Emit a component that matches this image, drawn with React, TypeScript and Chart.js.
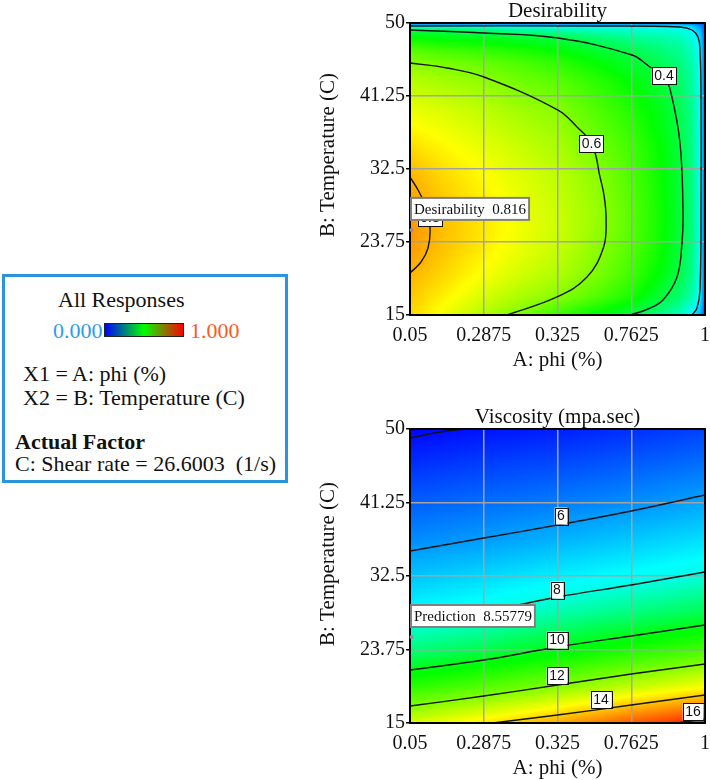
import React, { useEffect, useRef } from "react";
import { Chart, registerables } from "chart.js";

Chart.register(...registerables);

const SERIF = "'Liberation Serif', 'Times New Roman', Times, serif";
const SANS = "'Liberation Sans', Arial, sans-serif";

// ---------- axes ----------
const xTickValues = [0.05, 0.2875, 0.525, 0.7625, 1];
const xTickLabels = ["0.05", "0.2875", "0.325", "0.7625", "1"];
const yTickValues = [15, 23.75, 32.5, 41.25, 50];
const yTickLabels = ["15", "23.75", "32.5", "41.25", "50"];

// ---------- Desirability surface ----------
const desirPhi = [0.05, 0.1466, 0.2875, 0.4042, 0.5266, 0.6619, 0.7649, 0.8551, 0.9193, 0.958, 0.9838, 1.0];
const desirTemp = [50, 49.64, 49.16, 48.2, 46.76, 45.21, 43.17, 39.57, 35.38, 31.54, 27.59, 25.43, 22.79, 19.79, 17.16, 15];
const desirValues = [
  [0.04, 0.04, 0.04, 0.04, 0.04, 0.04, 0.04, 0.04, 0.04, 0.03, 0.03, 0.01],
  [0.2, 0.2, 0.2, 0.2, 0.2, 0.2, 0.2, 0.2, 0.19, 0.16, 0.1, 0.03],
  [0.4, 0.385, 0.35, 0.31, 0.29, 0.27, 0.255, 0.245, 0.235, 0.2, 0.13, 0.04],
  [0.47, 0.45, 0.44, 0.42, 0.4, 0.35, 0.32, 0.3, 0.28, 0.24, 0.17, 0.04],
  [0.55, 0.53, 0.51, 0.49, 0.46, 0.415, 0.385, 0.345, 0.315, 0.27, 0.2, 0.04],
  [0.6, 0.585, 0.565, 0.54, 0.51, 0.46, 0.42, 0.38, 0.34, 0.29, 0.21, 0.04],
  [0.645, 0.63, 0.605, 0.575, 0.55, 0.5, 0.455, 0.41, 0.36, 0.305, 0.215, 0.04],
  [0.7, 0.685, 0.655, 0.625, 0.6, 0.54, 0.495, 0.44, 0.385, 0.32, 0.22, 0.04],
  [0.755, 0.73, 0.695, 0.665, 0.635, 0.575, 0.525, 0.462, 0.4, 0.33, 0.222, 0.04],
  [0.8, 0.765, 0.725, 0.69, 0.655, 0.6, 0.54, 0.475, 0.407, 0.335, 0.225, 0.04],
  [0.825, 0.785, 0.742, 0.705, 0.668, 0.612, 0.55, 0.48, 0.41, 0.34, 0.225, 0.04],
  [0.83, 0.79, 0.745, 0.708, 0.67, 0.61, 0.55, 0.48, 0.41, 0.34, 0.225, 0.04],
  [0.822, 0.785, 0.738, 0.7, 0.662, 0.6, 0.545, 0.475, 0.405, 0.335, 0.223, 0.04],
  [0.798, 0.765, 0.715, 0.675, 0.64, 0.582, 0.525, 0.455, 0.39, 0.325, 0.215, 0.04],
  [0.778, 0.74, 0.68, 0.635, 0.6, 0.54, 0.485, 0.41, 0.35, 0.29, 0.2, 0.04],
  [0.76, 0.715, 0.64, 0.59, 0.52, 0.45, 0.4, 0.33, 0.27, 0.19, 0.13, 0.03],
];
const desirContour02: [number, number][] = [
  [0.05, 49.64], [0.6619, 49.64], [0.9194, 49.52], [0.9581, 49.16], [0.9775, 48.32], [0.9839, 46.76],
  [0.9871, 40.77], [0.9871, 28.78], [0.9839, 18.0], [0.9742, 15.84], [0.9581, 15.0],
];
const desirContour04: [number, number][] = [
  [0.05, 49.16], [0.2883, 48.8], [0.5266, 48.2], [0.7649, 46.16], [0.8229, 44.73], [0.868, 43.65],
  [0.8905, 41.61], [0.9195, 35.62], [0.9291, 27.59], [0.9259, 23.63], [0.9098, 19.55], [0.8647, 16.8],
  [0.8164, 15.72], [0.7585, 15.0],
];
const desirContour06: [number, number][] = [
  [0.05, 45.21], [0.1691, 44.61], [0.2883, 43.53], [0.5266, 39.57], [0.5878, 37.53], [0.6361, 35.5],
  [0.6619, 31.54], [0.6747, 29.38], [0.6815, 26.5], [0.6735, 23.15], [0.62, 19.55], [0.5234, 17.16],
  [0.3624, 15.0],
];
const desirContour08: [number, number][] = [
  [0.05, 31.54], [0.0758, 29.98], [0.1015, 27.95], [0.1144, 25.43], [0.108, 23.03], [0.0854, 21.35], [0.05, 20.03],
];
const desirLabelText = ["0.4", "0.6", "0.8"];
const desirLabelAt: [number, number][] = [[0.868, 43.65], [0.6345, 35.5], [0.1144, 26.63]];
const desirPrediction = { phi: 0.05, temp: 25.2, name: "Desirability", value: "0.816" };

// ---------- Viscosity surface ----------
const viscPhi = [0.05, 0.2875, 0.525, 0.7625, 1];
const viscTemp = [50, 45.625, 41.25, 36.875, 32.5, 28.125, 23.75, 19.375, 15];
const viscValues = [
  [3.84, 4.07, 4.22, 4.45, 4.74],
  [4.49, 4.72, 4.9, 5.15, 5.44],
  [5.14, 5.37, 5.58, 5.84, 6.19],
  [5.79, 6.03, 6.4, 6.76, 7.15],
  [6.68, 7.03, 7.42, 7.76, 8.15],
  [7.69, 8.03, 8.63, 9.09, 9.54],
  [9.11, 9.56, 10.13, 10.71, 11.26],
  [10.9, 11.46, 12.08, 12.79, 13.44],
  [13.03, 13.8, 14.6, 15.57, 16.33],
];
const viscColorStops = [3.8, 6, 8, 10, 12, 14, 16, 16.6];
const viscColorPos = [0, 0.15, 0.27, 0.47, 0.62, 0.79, 0.95, 1];
const viscContour4: [number, number][] = [[0.05, 48.93], [0.1466, 49.64], [0.2271, 50.0]];
const viscContour6: [number, number][] = [[0.05, 35.48], [0.2875, 37.02], [0.525, 38.57], [0.7625, 40.24], [1.0, 42.14]];
const viscContour8: [number, number][] = [[0.05, 26.79], [0.2875, 28.21], [0.525, 30.0], [0.7625, 31.43], [1.0, 32.98]];
const viscContour10: [number, number][] = [[0.05, 21.31], [0.2875, 22.5], [0.525, 24.05], [0.7625, 25.36], [1.0, 26.67]];
const viscContour12: [number, number][] = [[0.05, 17.02], [0.2875, 18.21], [0.525, 19.52], [0.7625, 20.83], [1.0, 22.02]];
const viscContour14: [number, number][] = [[0.3173, 15.0], [0.525, 15.95], [0.7625, 17.14], [1.0, 18.33]];
const viscContour16: [number, number][] = [[0.9098, 15.0], [1.0, 15.48]];
const viscLabelText = ["6", "8", "10", "12", "14", "16"];
const viscLabelAt: [number, number][] = [[0.5362, 39.64], [0.5234, 30.83], [0.5234, 24.88], [0.5234, 20.6], [0.665, 17.74], [0.9614, 16.31]];
const viscPrediction = { phi: 0.05, temp: 25.24, name: "Prediction", value: "8.55779" };

// ---------- helpers ----------
function jet(t: number): [number, number, number] {
  t = Math.max(0, Math.min(1, t));
  if (t < 0.25) return [0, Math.round((255 * t) / 0.25), 255];
  if (t < 0.5) return [0, 255, Math.round((255 * (0.5 - t)) / 0.25)];
  if (t < 0.75) return [Math.round((255 * (t - 0.5)) / 0.25), 255, 0];
  return [255, Math.round((255 * (1 - t)) / 0.25), 0];
}

function locate(arr: number[], v: number): [number, number] {
  const n = arr.length;
  for (let i = 0; i < n - 1; i++) {
    const a = arr[i];
    const b = arr[i + 1];
    if (v >= Math.min(a, b) && v <= Math.max(a, b)) return [i, b === a ? 0 : (v - a) / (b - a)];
  }
  const asc = arr[n - 1] > arr[0];
  const beforeStart = asc ? v < arr[0] : v > arr[0];
  return beforeStart ? [0, 0] : [n - 2, 1];
}

function piecewise(stops: number[], pos: number[], v: number) {
  const [i, t] = locate(stops, v);
  return pos[i] + (pos[i + 1] - pos[i]) * Math.max(0, Math.min(1, t));
}

type Spec = {
  title: string;
  top: number;
  height: number;
  yTitleShift: number;
  phi: number[];
  temp: number[];
  values: number[][];
  toT: (v: number) => number;
  contours: [number, number][][];
  labelText: string[];
  labelAt: [number, number][];
  prediction: { phi: number; temp: number; name: string; value: string };
};

function makePlugins(spec: Spec) {
  const heat = {
    id: "heat",
    beforeDraw(chart: any) {
      const a = chart.chartArea;
      const sx = chart.scales.x;
      const sy = chart.scales.y;
      const w = Math.round(a.right - a.left);
      const h = Math.round(a.bottom - a.top);
      const off = document.createElement("canvas");
      off.width = w;
      off.height = h;
      const octx = off.getContext("2d")!;
      const img = octx.createImageData(w, h);
      const cols = [];
      for (let i = 0; i < w; i++) cols.push(locate(spec.phi, sx.getValueForPixel(a.left + i + 0.5)));
      const rows = [];
      for (let j = 0; j < h; j++) rows.push(locate(spec.temp, sy.getValueForPixel(a.top + j + 0.5)));
      const g = spec.values;
      for (let j = 0; j < h; j++) {
        const [r, ty] = rows[j];
        for (let i = 0; i < w; i++) {
          const [c, tx] = cols[i];
          const v0 = g[r][c] + (g[r][c + 1] - g[r][c]) * tx;
          const v1 = g[r + 1][c] + (g[r + 1][c + 1] - g[r + 1][c]) * tx;
          const v = v0 + (v1 - v0) * ty;
          const [R, G, B] = jet(spec.toT(v));
          const k = (j * w + i) * 4;
          img.data[k] = R;
          img.data[k + 1] = G;
          img.data[k + 2] = B;
          img.data[k + 3] = 255;
        }
      }
      octx.putImageData(img, 0, 0);
      chart.ctx.drawImage(off, a.left, a.top);
    },
  };

  const overlay = {
    id: "overlay",
    afterDatasetsDraw(chart: any) {
      const ctx = chart.ctx as CanvasRenderingContext2D;
      const a = chart.chartArea;
      const sx = chart.scales.x;
      const sy = chart.scales.y;
      ctx.save();
      ctx.strokeStyle = "#000";
      ctx.lineWidth = 2;
      ctx.strokeRect(a.left, a.top, a.right - a.left, a.bottom - a.top);
      ctx.font = `14px ${SANS}`;
      ctx.textAlign = "center";
      ctx.textBaseline = "middle";
      spec.labelText.forEach((t, i) => {
        const px = sx.getPixelForValue(spec.labelAt[i][0]);
        const py = sy.getPixelForValue(spec.labelAt[i][1]);
        const tw = ctx.measureText(t).width + 5;
        const th = 17;
        ctx.fillStyle = "#fff";
        ctx.fillRect(px - tw / 2, py - th / 2, tw, th);
        ctx.strokeStyle = "#111";
        ctx.lineWidth = 1;
        ctx.strokeRect(Math.round(px - tw / 2) + 0.5, Math.round(py - th / 2) + 0.5, Math.round(tw), th);
        ctx.fillStyle = "#111";
        ctx.fillText(t, px, py + 0.5);
      });
      const p = spec.prediction;
      const px = sx.getPixelForValue(p.phi);
      const py = sy.getPixelForValue(p.temp);
      ctx.font = `15px ${SERIF}`;
      ctx.textAlign = "left";
      const text = `${p.name}  ${p.value}`;
      const bw = ctx.measureText(text).width + 6;
      const bh = 22;
      const bx = px + 1;
      const by = py - 10 - bh;
      ctx.fillStyle = "#fff";
      ctx.fillRect(bx, by, bw, bh);
      ctx.strokeStyle = "#808080";
      ctx.lineWidth = 2;
      ctx.strokeRect(bx, by, bw, bh);
      ctx.fillStyle = "#111";
      ctx.fillText(text, bx + 3, by + bh / 2 + 1);
      ctx.fillStyle = "#909090";
      ctx.beginPath();
      ctx.arc(px + 1.5, py, 2, 0, Math.PI * 2);
      ctx.fill();
      ctx.restore();
    },
    afterDraw(chart: any) {
      const ctx = chart.ctx as CanvasRenderingContext2D;
      const a = chart.chartArea;
      const cx = (a.left + a.right) / 2;
      ctx.save();
      ctx.fillStyle = "#111";
      ctx.font = `21px ${SERIF}`;
      ctx.textAlign = "center";
      ctx.textBaseline = "alphabetic";
      ctx.fillText(spec.title, cx, a.top - 6);
      ctx.fillText("A: phi (%)", cx, a.bottom + 51);
      ctx.translate(a.left - 76, (a.top + a.bottom) / 2 + spec.yTitleShift);
      ctx.rotate(-Math.PI / 2);
      ctx.fillText("B: Temperature (C)", 0, 0);
      ctx.restore();
    },
  };
  return [heat, overlay];
}

function ContourPlot({ spec }: { spec: Spec }) {
  const ref = useRef<HTMLCanvasElement | null>(null);
  useEffect(() => {
    if (!ref.current) return;
    const tickFont = { family: SERIF, size: 20 };
    const chart = new Chart(ref.current, {
      type: "scatter",
      data: {
        datasets: spec.contours.map((pts) => ({
          data: pts.map(([x, y]) => ({ x, y })),
          showLine: true,
          pointRadius: 0,
          borderColor: "#141414",
          borderWidth: 1.4,
          tension: 0.4,
          fill: false,
        })),
      },
      options: {
        animation: false,
        responsive: false,
        events: [],
        layout: { padding: { top: 23, right: 5, left: 0, bottom: 0 } },
        plugins: { legend: { display: false }, tooltip: { enabled: false }, title: { display: false } },
        scales: {
          x: {
            type: "linear",
            min: 0.05,
            max: 1,
            afterBuildTicks: (s: any) => {
              s.ticks = xTickValues.map((v) => ({ value: v }));
            },
            afterFit: (s: any) => {
              s.height = 57;
            },
            ticks: {
              callback: (_v: any, i: number) => xTickLabels[i],
              font: tickFont,
              color: "#111",
              padding: 0,
              maxRotation: 0,
              autoSkip: false,
            },
            grid: { color: "#a3a3a3", lineWidth: 1.5, tickLength: 9, tickColor: "rgba(0,0,0,0)" },
            border: { display: false },
          },
          y: {
            type: "linear",
            min: 15,
            max: 50,
            afterBuildTicks: (s: any) => {
              s.ticks = yTickValues.map((v) => ({ value: v }));
            },
            afterFit: (s: any) => {
              s.width = 110;
            },
            ticks: {
              callback: (_v: any, i: number) => yTickLabels[i],
              font: tickFont,
              color: "#111",
              padding: 1,
              autoSkip: false,
            },
            grid: { color: "#a3a3a3", lineWidth: 1.5, tickLength: 4, tickColor: "#000" },
            border: { display: false },
          },
        },
      } as any,
      plugins: makePlugins(spec) as any,
    });
    return () => chart.destroy();
  }, [spec]);
  return (
    <canvas
      ref={ref}
      width={410}
      height={spec.height}
      style={{ position: "absolute", left: 300, top: spec.top, width: 410, height: spec.height }}
    />
  );
}

const desirSpec: Spec = {
  title: "Desirability",
  top: 0,
  height: 372,
  yTitleShift: -14,
  phi: desirPhi,
  temp: desirTemp,
  values: desirValues,
  toT: (v) => 0.05 + 0.97 * v,
  contours: [desirContour02, desirContour04, desirContour06, desirContour08],
  labelText: desirLabelText,
  labelAt: desirLabelAt,
  prediction: desirPrediction,
};

const viscSpec: Spec = {
  title: "Viscosity (mpa.sec)",
  top: 406,
  height: 374,
  yTitleShift: -12,
  phi: viscPhi,
  temp: viscTemp,
  values: viscValues,
  toT: (v) => piecewise(viscColorStops, viscColorPos, v),
  contours: [viscContour4, viscContour6, viscContour8, viscContour10, viscContour12, viscContour14, viscContour16],
  labelText: viscLabelText,
  labelAt: viscLabelAt,
  prediction: viscPrediction,
};

const textStyle: React.CSSProperties = {
  position: "absolute",
  fontFamily: SERIF,
  fontSize: 22,
  lineHeight: "25px",
  color: "#111",
  whiteSpace: "pre",
};

export default function App() {
  return (
    <div style={{ position: "absolute", left: 0, top: 0, width: 710, height: 780, background: "#fff", overflow: "hidden" }}>
      <div
        style={{
          position: "absolute",
          left: 2,
          top: 274,
          width: 286,
          height: 209,
          boxSizing: "border-box",
          border: "3px solid #2a95dc",
        }}
      />
      <div style={{ ...textStyle, left: 58, top: 287 }}>All Responses</div>
      <div style={{ ...textStyle, left: 53, top: 318, color: "#2d9cf0" }}>0.000</div>
      <div
        style={{
          position: "absolute",
          left: 104,
          top: 323,
          width: 80,
          height: 14,
          boxSizing: "border-box",
          border: "1px solid #222",
          background: "linear-gradient(to right, #0000ff, #00ff00, #ff0000)",
        }}
      />
      <div style={{ ...textStyle, left: 190, top: 318, color: "#ff5a1e" }}>1.000</div>
      <div style={{ ...textStyle, left: 23, top: 361 }}>X1 = A: phi (%)</div>
      <div style={{ ...textStyle, left: 23, top: 385 }}>X2 = B: Temperature (C)</div>
      <div style={{ ...textStyle, left: 15, top: 429, fontWeight: "bold" }}>Actual Factor</div>
      <div style={{ ...textStyle, left: 15, top: 451 }}>C: Shear rate = 26.6003  (1/s)</div>
      <ContourPlot spec={desirSpec} />
      <ContourPlot spec={viscSpec} />
    </div>
  );
}
